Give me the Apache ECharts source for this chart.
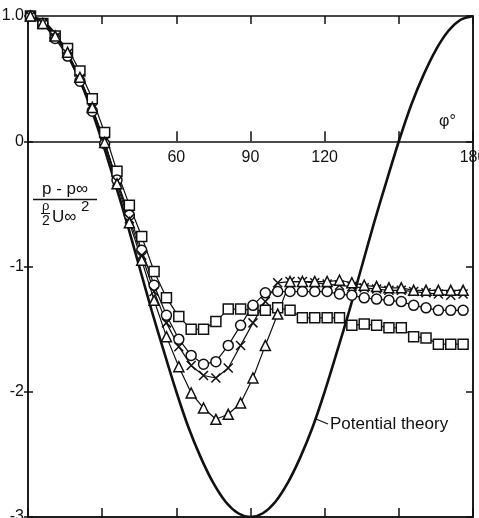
<!DOCTYPE html>
<html>
<head>
<meta charset="utf-8">
<script src="https://cdn.jsdelivr.net/npm/echarts@6/dist/echarts.min.js"></script>
<style>
  html, body { margin: 0; padding: 0; background: #fff; }
  #chart { width: 479px; height: 518px; }
</style>
</head>
<body>
<div id="chart"></div>
<script>
// Angle around the cylinder (degrees) at which the pressure taps were read
const phi = [1, 6, 11, 16, 21, 26, 31, 36, 41, 46, 51, 56, 61, 66, 71, 76, 81, 86,
             91, 96, 101, 106, 111, 116, 121, 126, 131, 136, 141, 146, 151, 156, 161, 166, 171, 176];

// Pressure coefficient (p - p_inf) / (rho/2 U_inf^2), one array per measurement set
const squares = [1.00, 0.94, 0.84, 0.74, 0.56, 0.34, 0.07, -0.24, -0.51, -0.76,
                 -1.04, -1.25, -1.40, -1.50, -1.50, -1.44, -1.34, -1.34, -1.35, -1.35,
                 -1.33, -1.35, -1.41, -1.41, -1.41, -1.41, -1.47, -1.46, -1.47, -1.49,
                 -1.49, -1.56, -1.57, -1.62, -1.62, -1.62];
const circles = [1.00, 0.94, 0.82, 0.68, 0.48, 0.24, -0.02, -0.31, -0.59, -0.87,
                 -1.15, -1.39, -1.58, -1.71, -1.78, -1.76, -1.63, -1.47, -1.31, -1.21,
                 -1.20, -1.20, -1.20, -1.20, -1.20, -1.22, -1.23, -1.25, -1.26, -1.27,
                 -1.28, -1.31, -1.33, -1.35, -1.35, -1.35];
const crosses = [1.00, 0.94, 0.83, 0.70, 0.50, 0.26, 0.00, -0.32, -0.62, -0.91,
                 -1.20, -1.45, -1.64, -1.79, -1.87, -1.89, -1.81, -1.63, -1.45, -1.28,
                 -1.13, -1.12, -1.12, -1.13, -1.14, -1.15, -1.16, -1.17, -1.18, -1.19,
                 -1.19, -1.20, -1.21, -1.22, -1.23, -1.22];
const triangles = [1.00, 0.94, 0.84, 0.71, 0.51, 0.27, -0.01, -0.34, -0.65, -0.95,
                   -1.27, -1.56, -1.80, -2.01, -2.13, -2.22, -2.18, -2.09, -1.89, -1.63,
                   -1.38, -1.12, -1.12, -1.12, -1.12, -1.11, -1.13, -1.15, -1.16, -1.17,
                   -1.17, -1.19, -1.19, -1.19, -1.19, -1.19];

// Potential-flow curve
const theoryPhi = [0, 5, 10, 15, 20, 25, 30, 35, 40, 45, 50, 55, 60, 65, 70, 75, 80, 85, 90,
                   95, 100, 105, 110, 115, 120, 125, 130, 135, 140, 145, 150, 155, 160, 165, 170, 175, 180];
const theoryCp = [1.00, 0.97, 0.88, 0.73, 0.53, 0.29, 0.00, -0.32, -0.65, -1.00, -1.35, -1.68, -2.00,
                  -2.29, -2.53, -2.73, -2.88, -2.97, -3.00, -2.97, -2.88, -2.73, -2.53, -2.29, -2.00,
                  -1.68, -1.35, -1.00, -0.65, -0.32, 0.00, 0.29, 0.53, 0.73, 0.88, 0.97, 1.00];

// Axis labels
const xLabels = [60, 90, 120, 180];
const yLabelText = { '1': '1.0', '0': '0', '-1': '-1', '-2': '-2', '-3': '-3' };

const FONT = 'Liberation Sans, Arial, sans-serif';
const INK = '#111';

// Plot frame (pixels) and value ranges
const GRID = { left: 28, right: 6, top: 16, bottom: 1 };
const Y_MIN = -3, Y_MAX = 1;
const PLOT_H = 518 - GRID.top - GRID.bottom;
// lift the labelled angle axis from the frame bottom up to Cp = 0
const zeroLift = -PLOT_H * (0 - Y_MIN) / (Y_MAX - Y_MIN);

const pairs = (xs, ys) => xs.map((x, i) => [x, ys[i]]);

function measured(name, values, symbol, size) {
  return {
    name: name,
    type: 'line',
    data: pairs(phi, values),
    symbol: symbol,
    symbolSize: size,
    showAllSymbol: true,
    lineStyle: { color: INK, width: 1.2 },
    itemStyle: { color: '#fff', borderColor: INK, borderWidth: 1.5 },
    emphasis: { disabled: true },
    z: 3
  };
}

const chart = echarts.init(document.getElementById('chart'), null, { renderer: 'canvas' });

const tickAxisBase = {
  type: 'value', min: 0, max: 180, interval: 30,
  splitLine: { show: false },
  axisLabel: { show: false }
};
const yBase = {
  type: 'value', min: Y_MIN, max: Y_MAX, interval: 1,
  splitLine: { show: false },
  axisLabel: { show: false }
};

chart.setOption({
  animation: false,
  backgroundColor: '#fff',
  grid: Object.assign({}, GRID, {
    outerBoundsMode: 'none',
    containLabel: false,
    show: true, borderColor: INK, borderWidth: 1.5, backgroundColor: 'transparent'
  }),
  xAxis: [
    {
      type: 'value', min: 0, max: 180, interval: 30, position: 'bottom',
      offset: zeroLift,
      axisLine: { onZero: false, lineStyle: { color: INK, width: 1.5 } },
      axisTick: { inside: true, length: 10, lineStyle: { color: INK, width: 1.5 } },
      axisLabel: {
        margin: 8, color: INK, fontFamily: FONT, fontSize: 16,
        showMaxLabel: true, hideOverlap: false,
        formatter: v => (xLabels.indexOf(v) >= 0 ? String(v) : '')
      },
      splitLine: { show: false }
    },
    Object.assign({}, tickAxisBase, {
      position: 'top',
      axisLine: { show: false, onZero: false },
      axisTick: { inside: true, length: 8, lineStyle: { color: INK, width: 1.5 } }
    }),
    Object.assign({}, tickAxisBase, {
      position: 'bottom',
      axisLine: { show: true, onZero: false, lineStyle: { color: INK, width: 1.5 } },
      axisTick: { inside: true, length: 9, lineStyle: { color: INK, width: 1.5 } }
    })
  ],
  yAxis: [
    {
      type: 'value', min: Y_MIN, max: Y_MAX, interval: 1, position: 'left',
      axisLine: { show: true, onZero: false, lineStyle: { color: INK, width: 1.5 } },
      axisTick: { inside: false, length: 4, lineStyle: { color: INK, width: 1.5 } },
      axisLabel: {
        margin: 4, color: INK, fontFamily: FONT, fontSize: 16,
        showMinLabel: true, showMaxLabel: true,
        formatter: v => yLabelText[String(v)] || ''
      },
      splitLine: { show: false }
    },
    Object.assign({}, yBase, {
      position: 'left',
      axisLine: { show: false, onZero: false },
      axisTick: { inside: true, length: 5, lineStyle: { color: INK, width: 1.5 } }
    }),
    Object.assign({}, yBase, {
      position: 'right',
      axisLine: { show: true, onZero: false, lineStyle: { color: INK, width: 1.5 } },
      axisTick: { inside: true, length: 7, lineStyle: { color: INK, width: 1.5 } }
    })
  ],
  series: [
    {
      name: 'Potential theory',
      type: 'line',
      data: pairs(theoryPhi, theoryCp),
      smooth: 0.3,
      showSymbol: false,
      lineStyle: { color: INK, width: 2.6 },
      emphasis: { disabled: true },
      z: 2
    },
    measured('squares', squares, 'rect', 10),
    measured('circles', circles, 'circle', 10),
    measured('crosses', crosses, 'path://M0,0L10,10M0,10L10,0', 9),
    measured('triangles', triangles, 'triangle', 10)
  ],
  graphic: [
    // coordinate name on the angle axis
    { type: 'text', left: 439, top: 114, z: 10,
      style: { text: 'φ°', fill: INK, font: '16px ' + FONT } },
    // pressure coefficient written as a fraction
    { type: 'text', left: 42, top: 181, z: 10,
      style: { text: 'p - p∞', fill: INK, font: '17px ' + FONT } },
    { type: 'line', z: 10,
      shape: { x1: 33, y1: 199.5, x2: 97, y2: 199.5 },
      style: { stroke: INK, lineWidth: 1.5 } },
    { type: 'text', left: 42, top: 200, z: 10,
      style: { text: 'ρ', fill: INK, font: '13px ' + FONT } },
    { type: 'line', z: 10,
      shape: { x1: 41, y1: 213.5, x2: 50, y2: 213.5 },
      style: { stroke: INK, lineWidth: 1 } },
    { type: 'text', left: 42, top: 214, z: 10,
      style: { text: '2', fill: INK, font: '14px ' + FONT } },
    { type: 'text', left: 52, top: 209, z: 10,
      style: { text: 'U∞', fill: INK, font: '17px ' + FONT } },
    { type: 'text', left: 81, top: 199, z: 10,
      style: { text: '2', fill: INK, font: '15px ' + FONT } },
    // annotation of the potential-flow curve
    { type: 'line', z: 10,
      shape: { x1: 316, y1: 419, x2: 328, y2: 424 },
      style: { stroke: INK, lineWidth: 1.2 } },
    { type: 'text', left: 330, top: 416, z: 10,
      style: { text: 'Potential theory', fill: INK, font: '17px ' + FONT } }
  ]
});
</script>
</body>
</html>
